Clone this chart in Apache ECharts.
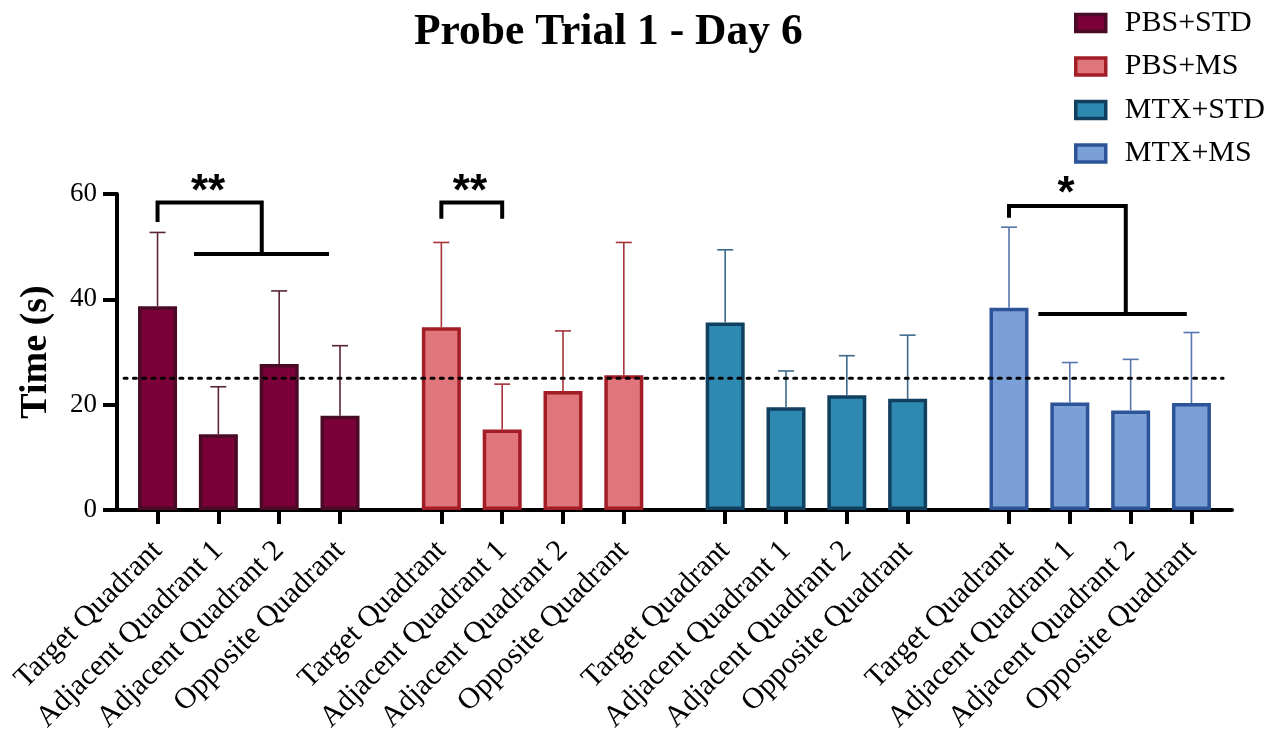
<!DOCTYPE html>
<html>
<head>
<meta charset="utf-8">
<script src="https://cdn.jsdelivr.net/npm/echarts@6/dist/echarts.min.js"></script>
<style>html,body{margin:0;padding:0;background:#fff;}#chart{width:1265px;height:731px;}</style>
</head>
<body>
<div id="chart"></div>
<script>
// ---- data ----
const quadrants = ['Target Quadrant', 'Adjacent Quadrant 1', 'Adjacent Quadrant 2', 'Opposite Quadrant'];
const groups = ['PBS+STD', 'PBS+MS', 'MTX+STD', 'MTX+MS'];
const pbsStdMean = [38.7, 14.4, 27.7, 17.9];
const pbsStdSD   = [14.0, 9.0, 13.9, 13.3];
const pbsMsMean  = [34.7, 15.3, 22.6, 25.6];
const pbsMsSD    = [16.1, 8.6, 11.4, 25.2];
const mtxStdMean = [35.6, 19.5, 21.8, 21.1];
const mtxStdSD   = [13.8, 6.9, 7.5, 12.1];
const mtxMsMean  = [38.4, 20.4, 18.9, 20.3];
const mtxMsSD    = [15.3, 7.6, 9.7, 13.4];
const yTicks = [0, 20, 40, 60];
const chanceLevel = 25;
// significance annotations (x in slot units, y in seconds)
const bracketPaths = [
  [[2, 54.7], [2, 58.4], [7.14, 58.4], [7.14, 48.6]],
  [[3.8, 48.6], [10.46, 48.6]],
  [[16, 55.3], [16, 58.4], [19, 58.4], [19, 55.3]],
  [[44, 55.5], [44, 57.7], [49.76, 57.7], [49.76, 37.2]],
  [[45.45, 37.2], [52.77, 37.2]]
];
const starLabels = [[4.49, 60.2, '**'], [17.41, 60.2, '**'], [46.82, 59.8, '*']];

// ---- layout helpers ----
const N_SLOTS = 56;
const slotOf = (g, i) => 2 + g * 14 + i * 3;
const xCats = new Array(N_SLOTS).fill('');
groups.forEach((g, gi) => quadrants.forEach((q, qi) => { xCats[slotOf(gi, qi)] = q; }));

const means = [pbsStdMean, pbsMsMean, mtxStdMean, mtxMsMean];
const sds = [pbsStdSD, pbsMsSD, mtxStdSD, mtxMsSD];
const fills = ['#7b0039', '#e0757b', '#2e89b1', '#7b9fd7'];
const borders = ['#4a0a26', '#a31d27', '#103f5f', '#2d5498'];
const errColors = ['#5a2535', '#a8323b', '#3d6a8a', '#5676ad'];
const FONT = '"Liberation Serif", "Times New Roman", serif';

const series = [];
groups.forEach((name, gi) => {
  series.push({
    name: name, type: 'bar', xAxisIndex: 0, yAxisIndex: 0,
    barWidth: 39, barGap: '-100%',
    itemStyle: { color: fills[gi], borderColor: borders[gi], borderWidth: 3.5 },
    data: means[gi].map((v, i) => [slotOf(gi, i), v]),
    z: 2
  });
});
groups.forEach((name, gi) => {
  series.push({
    name: name + ' SD', type: 'custom', xAxisIndex: 1, yAxisIndex: 0,
    data: means[gi].map((v, i) => [slotOf(gi, i), v, sds[gi][i]]),
    renderItem: function (params, api) {
      const x = api.value(0), m = api.value(1), sd = api.value(2);
      const p0 = api.coord([x, m]);
      const p1 = api.coord([x, m + sd]);
      const st = { stroke: errColors[gi], lineWidth: 1.6, fill: null };
      return { type: 'group', children: [
        { type: 'line', shape: { x1: p0[0], y1: p0[1], x2: p1[0], y2: p1[1] }, style: st },
        { type: 'line', shape: { x1: p1[0] - 8, y1: p1[1], x2: p1[0] + 8, y2: p1[1] }, style: st }
      ]};
    },
    z: 3, silent: true
  });
});
// chance level line
series.push({
  name: 'chance', type: 'line', xAxisIndex: 1, yAxisIndex: 0,
  data: [[0.35, chanceLevel], [54.56, chanceLevel]], symbol: 'none',
  lineStyle: { color: '#000', width: 3, type: [3, 6.3], cap: 'round' }, z: 4, silent: true
});
// brackets
series.push({
  name: 'brackets', type: 'custom', xAxisIndex: 1, yAxisIndex: 0,
  data: bracketPaths.map((p, i) => [i]),
  renderItem: function (params, api) {
    const path = bracketPaths[params.dataIndex];
    return { type: 'polyline', shape: { points: path.map(pt => api.coord(pt)) },
      style: { stroke: '#000', lineWidth: 4, fill: null, lineJoin: 'miter' } };
  },
  z: 5, silent: true
});
// stars
series.push({
  name: 'stars', type: 'custom', xAxisIndex: 1, yAxisIndex: 0,
  data: starLabels,
  renderItem: function (params, api) {
    const p = api.coord([api.value(0), api.value(1)]);
    return { type: 'text', x: p[0], y: p[1],
      style: { text: starLabels[params.dataIndex][2], fill: '#000', align: 'center', verticalAlign: 'middle',
        font: 'bold 44px "Liberation Sans", Arial, sans-serif' } };
  },
  z: 5, silent: true
});

const chart = echarts.init(document.getElementById('chart'), null, { renderer: 'canvas' });
chart.setOption({
  backgroundColor: '#fff',
  animation: false,
  title: {
    text: 'Probe Trial 1 - Day 6', left: 414, top: 11, padding: 0,
    textStyle: { fontFamily: FONT, fontSize: 43.5, fontWeight: 'bold', color: '#000', lineHeight: 44 }
  },
  legend: {
    orient: 'vertical', left: 1074, top: 8, padding: 0, itemWidth: 30, itemHeight: 17, itemGap: 13.5,
    data: groups.map((g, gi) => ({ name: g, icon: 'rect',
      itemStyle: { color: fills[gi], borderColor: borders[gi], borderWidth: 3.5 } })),
    textStyle: { fontFamily: FONT, fontSize: 30, color: '#000', lineHeight: 30, padding: [0, 0, 0, 14] }
  },
  grid: { left: 117, right: 33, top: 194, bottom: 221, containLabel: false, outerBoundsMode: 'none' },
  xAxis: [
    {
      type: 'category', data: xCats, boundaryGap: false,
      axisLine: { lineStyle: { color: '#000', width: 4 } },
      axisTick: { show: true, length: 14, interval: (i, v) => v !== '', lineStyle: { color: '#000', width: 4 } },
      axisLabel: { interval: (i, v) => v !== '', rotate: 45, margin: 36, fontFamily: FONT, fontSize: 30, color: '#000' },
      splitLine: { show: false }
    },
    { type: 'value', min: 0, max: N_SLOTS - 1, show: false, splitLine: { show: false } }
  ],
  yAxis: {
    type: 'value', min: yTicks[0], max: yTicks[yTicks.length - 1], interval: 20,
    name: 'Time (s)', nameLocation: 'middle', nameGap: 62,
    nameTextStyle: { fontFamily: FONT, fontSize: 38, fontWeight: 'bold', color: '#000' },
    axisLine: { show: true, lineStyle: { color: '#000', width: 4 } },
    axisTick: { show: true, length: 14, lineStyle: { color: '#000', width: 4 } },
    axisLabel: { fontFamily: FONT, fontSize: 27, color: '#000', margin: 20 },
    splitLine: { show: false }
  },
  series: series
});
</script>
</body>
</html>
